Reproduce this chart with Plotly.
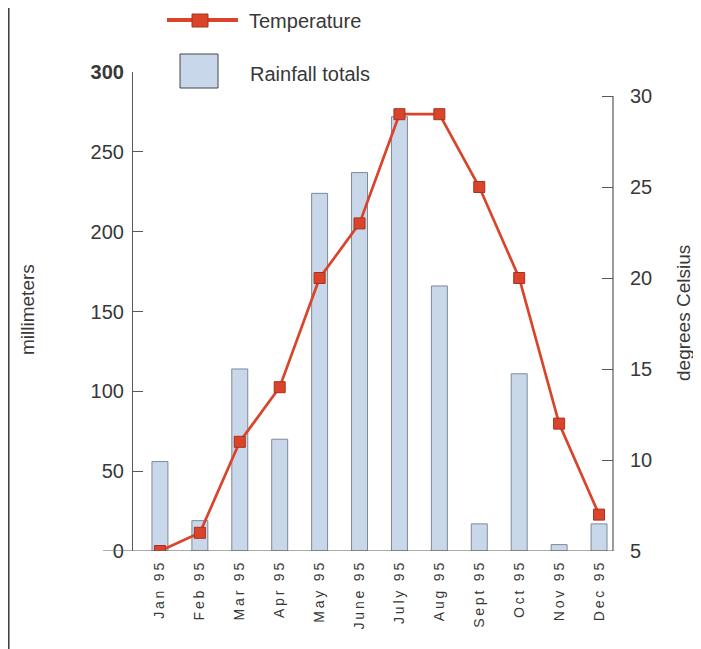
import plotly.graph_objects as go

months = ["Jan 95", "Feb 95", "Mar 95", "Apr 95", "May 95", "June 95",
          "July 95", "Aug 95", "Sept 95", "Oct 95", "Nov 95", "Dec 95"]
rainfall_mm = [56, 19, 114, 70, 224, 237, 272, 166, 17, 111, 4, 17]
temperature_c = [5, 6, 11, 14, 20, 23, 29, 29, 25, 20, 12, 7]
left_ticks = [0, 50, 100, 150, 200, 250, 300]
right_ticks = [5, 10, 15, 20, 25, 30]

FONT = "Liberation Sans, Arial, Helvetica, sans-serif"
TXT = "#383838"
AX = "#555a55"
BAR_FILL = "#c9d7ea"
BAR_LINE = "#7d8a96"
RED = "#d9442a"

x_idx = list(range(len(months)))
THIN = "\u2009"
spaced = [THIN.join(list(m)) for m in months]

fig = go.Figure()
fig.add_trace(go.Bar(
    x=x_idx, y=rainfall_mm, width=0.4, name="Rainfall totals",
    marker=dict(color=BAR_FILL, line=dict(color=BAR_LINE, width=1)),
    yaxis="y",
))
fig.add_trace(go.Scatter(
    x=x_idx, y=temperature_c, mode="lines+markers", name="Temperature",
    line=dict(color=RED, width=2.7),
    marker=dict(symbol="square", size=11, color=RED, line=dict(color="#a8321e", width=1)),
    yaxis="y2",
))

r_top = 5 + 25 * 479 / 455

# page body has an 8px margin, so the figure is 8px smaller and offset
fig.update_layout(
    width=693, height=641,
    margin=dict(l=125, r=88, t=64, b=98, autoexpand=False),
    paper_bgcolor="white", plot_bgcolor="white",
    showlegend=False,
    font=dict(family=FONT, color=TXT),
    xaxis=dict(
        range=[-0.675, 11.35], tickmode="array", tickvals=x_idx, ticktext=spaced,
        tickangle=-90, tickfont=dict(size=14, color=TXT), showline=False,
        showgrid=False, zeroline=False, ticks="", ticklabelstandoff=8, automargin=False,
    ),
    yaxis=dict(
        range=[0, 300], tickmode="array", tickvals=left_ticks,
        ticktext=["<b>300</b>" if v == 300 else str(v) for v in left_ticks],
        tickfont=dict(size=20, color=TXT), showline=True, linecolor=AX, linewidth=1.2,
        ticks="inside", ticklen=10, tickcolor=AX, showgrid=False, zeroline=False,
        ticklabelstandoff=4, automargin=False,
    ),
    yaxis2=dict(
        range=[5, r_top], overlaying="y", side="right", tickmode="array",
        tickvals=right_ticks, ticktext=[str(v) for v in right_ticks],
        tickfont=dict(size=20, color=TXT), showline=False,
        ticks="inside", ticklen=11, tickcolor=AX, showgrid=False, zeroline=False,
        ticklabelstandoff=16, automargin=False,
    ),
)

def px(x):
    return (x - 133) / 480

def py(y):
    return (551 - y) / 479

shapes = [
    dict(type="line", xref="paper", yref="y2", x0=1, x1=1, y0=5, y1=30,
         line=dict(color=AX, width=1.2)),
    dict(type="line", xref="paper", yref="y", x0=px(103), x1=1, y0=0, y1=0,
         line=dict(color=AX, width=1.2)),
    dict(type="line", xref="paper", yref="paper", x0=px(8.8), x1=px(8.8), y0=py(0), y1=py(649),
         line=dict(color="#3a3a3a", width=1.5)),
    dict(type="line", xref="paper", yref="paper", x0=px(167), x1=px(238), y0=py(20), y1=py(20),
         line=dict(color=RED, width=4)),
    dict(type="rect", xref="paper", yref="paper", x0=px(192), x1=px(208), y0=py(14), y1=py(27),
         fillcolor=RED, line=dict(color="#a8321e", width=1)),
    dict(type="rect", xref="paper", yref="paper", x0=px(180), x1=px(218), y0=py(54), y1=py(88),
         fillcolor=BAR_FILL, line=dict(color="#444", width=1)),
]
fig.update_layout(shapes=shapes)

annotations = [
    dict(text="Temperature", x=px(247), y=py(21), xref="paper", yref="paper",
         xanchor="left", yanchor="middle", showarrow=False, font=dict(size=20, color=TXT)),
    dict(text="Rainfall totals", x=px(248), y=py(74), xref="paper", yref="paper",
         xanchor="left", yanchor="middle", showarrow=False, font=dict(size=20, color=TXT)),
    dict(text="millimeters", x=px(27), y=py(310), xref="paper", yref="paper",
         xanchor="center", yanchor="middle", textangle=-90, showarrow=False,
         font=dict(size=19, color=TXT)),
    dict(text="degrees Celsius", x=px(683), y=py(313), xref="paper", yref="paper",
         xanchor="center", yanchor="middle", textangle=-90, showarrow=False,
         font=dict(size=19, color=TXT)),
]
fig.update_layout(annotations=annotations)

fig.write_html("out.html")
